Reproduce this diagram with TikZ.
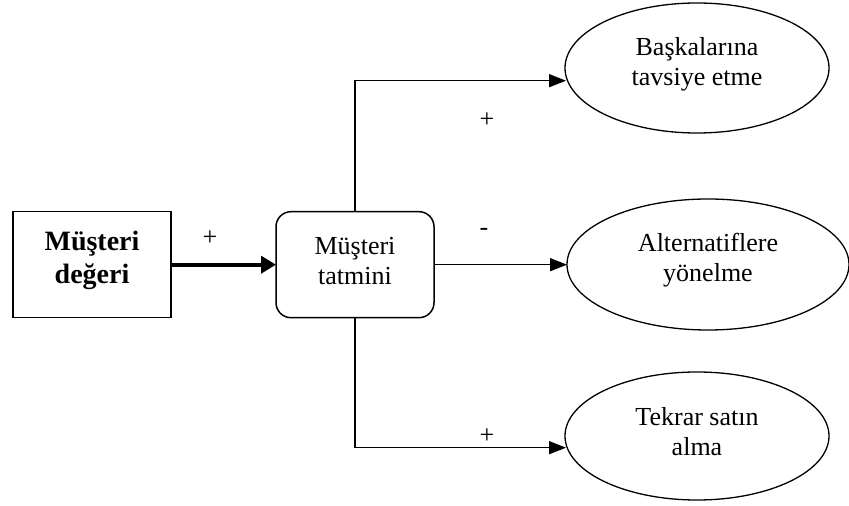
\documentclass[tikz,border=0pt]{standalone}
\usepackage{fontspec}
\setmainfont{Liberation Serif}
\usetikzlibrary{arrows.meta,shapes.geometric}
\begin{document}
\begin{tikzpicture}[x=1pt,y=1pt,
  every node/.style={inner sep=0pt,outer sep=0pt},
  txt/.style={font=\fontsize{26}{30}\selectfont,align=center},
  sign/.style={font=\fontsize{26}{30}\selectfont},
  arr/.style={line width=1.5pt,-{Triangle[length=17pt,width=13pt]}},
  thickarr/.style={line width=4pt,-{Triangle[length=15pt,width=17pt]}},
  oval/.style={draw,line width=1.3pt,ellipse},
  up/.style={yshift=4pt}]
\useasboundingbox (0,0) rectangle (849,506);
\node[draw,line width=1.5pt,minimum width=158pt,minimum height=106pt] (mv) at (92,241.3) {};
\node[font=\bfseries\fontsize{28}{33}\selectfont,align=center] (mvt) at ([up]mv.center) {Müşteri\\değeri};
\node[draw,line width=1.5pt,rounded corners=15pt,minimum width=158pt,minimum height=106pt] (mt) at (355,241.3) {};
\node[txt] (mtt) at ([up]mt.center) {Müşteri\\tatmini};
\node[oval,minimum width=264pt,minimum height=130pt] (e1) at (697,438) {};
\node[txt] (e1t) at ([up]e1.center) {Başkalarına\\tavsiye etme};
\node[oval,minimum width=282pt,minimum height=131pt] (e2) at (708,241.5) {};
\node[txt] (e2t) at ([up]e2.center) {Alternatiflere\\yönelme};
\node[oval,minimum width=264pt,minimum height=128pt] (e3) at (697,70) {};
\node[txt] (e3t) at ([up]e3.center) {Tekrar satın\\alma};
\coordinate (t1) at (566,425.3);
\coordinate (t3) at (566,58.3);
\draw[thickarr] (mv.east) -- (mt.west);
\draw[arr] (mt.north) |- (t1);
\draw[arr] (mt.east) -- (mt.east -| e2.west);
\draw[arr] (mt.south) |- (t3);
\node[sign] (p0) at (210,268) {+};
\node[sign] (p1) at (487,386) {+};
\node[sign] (m2) at (484,274) {-};
\node[sign] (p3) at (487,70.3) {+};
\end{tikzpicture}
\end{document}
